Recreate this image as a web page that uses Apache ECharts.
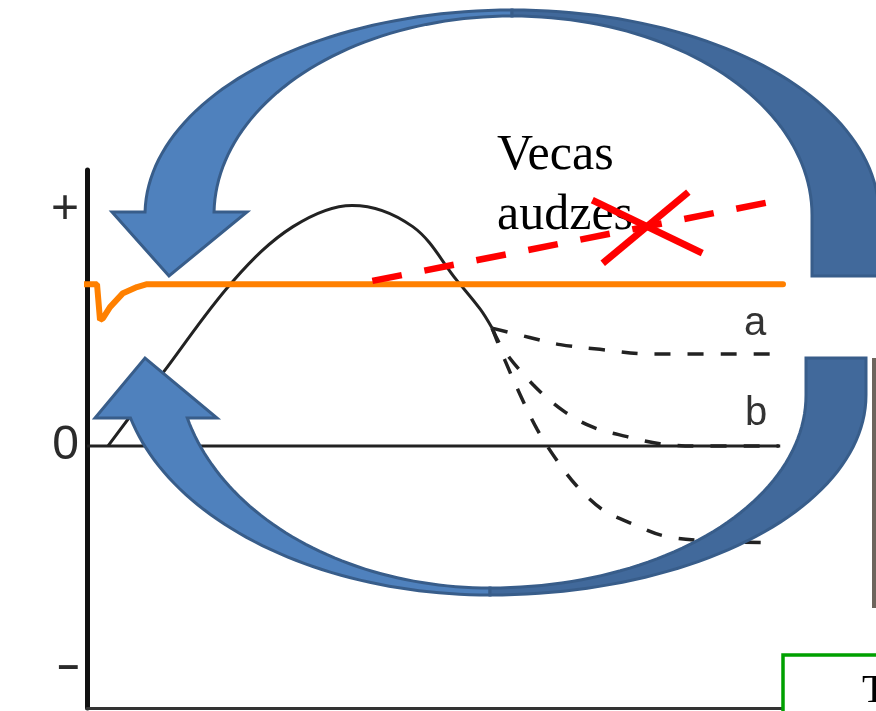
<!DOCTYPE html>
<html>
<head>
<meta charset="utf-8">
<script src="https://cdn.jsdelivr.net/npm/echarts@6.0.0/dist/echarts.min.js"></script>
<style>
  html, body { margin: 0; padding: 0; background: #fff; }
  #chart { width: 876px; height: 711px; }
</style>
</head>
<body>
<div id="chart"></div>
<script>
// curves as [time, value]
var mainCurve = [[0.30, 0], [1.09, 0.31], [2.10, 0.70], [2.96, 0.93], [3.81, 1.02],
  [4.68, 0.93], [5.32, 0.70], [5.65, 0.58], [5.82, 0.50]];
var branchA = [[5.82, 0.50], [6.36, 0.46], [6.80, 0.43], [7.37, 0.41], [8.09, 0.39], [9.94, 0.39]];
var branchB = [[5.82, 0.50], [5.98, 0.41], [6.41, 0.26], [6.84, 0.15], [7.27, 0.08],
  [7.76, 0.04], [8.23, 0.01], [8.81, 0], [9.94, 0]];
var branchC = [[5.82, 0.50], [6.01, 0.36], [6.22, 0.22], [6.47, 0.07], [6.75, -0.06],
  [7.04, -0.17], [7.41, -0.27], [7.84, -0.33], [8.28, -0.38], [8.81, -0.40], [9.89, -0.41]];
var orangeLine = [[-1.11, 0.686], [0.144, 0.686], [0.187, 0.534], [0.23, 0.542], [0.33, 0.589],
  [0.517, 0.648], [0.718, 0.674], [0.862, 0.686], [10, 0.686]];
var redTrend = [[4.10, 0.70], [10.03, 1.047]];
var crossA = [[7.26, 1.042], [8.84, 0.818]];
var crossB = [[8.64, 1.076], [7.41, 0.775]];
var zeroLine = [[0, 0], [9.96, 0]];
var yTicks = [1, 0, -0.94];
var yTickText = ['+', '0', '–'];

var chartDom = document.getElementById('chart');
var myChart = echarts.init(chartDom);
var option;

// points of one edge of a curved arrow band, from its apex to yEnd
function edge(cx, cy, rx, ry, apex, side, yEnd) {
  var pts = [];
  var end = Math.PI / 2, ext = false;
  var rel = (yEnd - cy) * apex;
  if (rel > 0) end = Math.acos(rel / ry); else ext = true;
  for (var k = 0; k <= 48; k++) {
    var phi = end * k / 48;
    pts.push([cx + side * rx * Math.sin(phi), cy + apex * ry * Math.cos(phi)]);
  }
  if (ext) pts.push([cx + side * rx, yEnd]);
  return pts;
}

function band(outer, inner, head) {
  return outer.concat(head || [], inner.slice().reverse());
}

var light = '#4f81bd', dark = '#41699b', outline = '#385d8a';

// top arrow, pointing down on the left
var topRight = band(edge(512, 215, 367, 205, -1, 1, 276), edge(512, 215, 300, 199, -1, 1, 276));
var topLeft = band(edge(512, 215, 367, 205, -1, -1, 212), edge(512, 215, 298, 199, -1, -1, 212),
  [[112, 212], [169, 276], [247, 212]]);
// bottom arrow, pointing up on the left
var botRight = band(edge(490, 395, 376, 200, 1, 1, 358), edge(490, 395, 316, 193, 1, 1, 358));
var botLeft = band(edge(490, 360, 371, 235, 1, -1, 418), edge(490, 360, 313, 228, 1, -1, 418),
  [[95, 418], [145, 358], [217, 418]]);

function arrowPart(pts, fill) {
  return {
    type: 'polygon', z: 100, silent: true,
    shape: { points: pts },
    style: { fill: fill, stroke: outline, lineWidth: 3, lineJoin: 'miter' }
  };
}

function lineSeries(name, data, style, extra) {
  var s = {
    name: name, type: 'line', data: data, showSymbol: false, symbol: 'none',
    silent: true, lineStyle: style, clip: false
  };
  for (var k in extra) s[k] = extra[k];
  return s;
}

var dashed = { color: '#222', width: 3.5, type: [16, 17] };

option = {
  animation: false,
  grid: { left: 87, right: 93, top: 170, bottom: 3, outerBoundsMode: 'none' },
  xAxis: {
    type: 'value', min: 0, max: 10,
    axisLine: { show: true, onZero: false, lineStyle: { color: '#333', width: 3 } },
    axisTick: { show: false }, axisLabel: { show: false }, splitLine: { show: false }
  },
  yAxis: {
    type: 'value', min: -1.11, max: 1.17,
    axisLine: { show: true, onZero: false, lineStyle: { color: '#111', width: 5 } },
    axisTick: { show: false }, splitLine: { show: false },
    axisLabel: {
      customValues: yTicks,
      formatter: function (v) {
        return v > 0.5 ? yTickText[0] : (v < -0.5 ? '{m|' + yTickText[2] + '}' : yTickText[1]);
      },
      rich: { m: { fontSize: 38, fontWeight: 'bold', fontFamily: 'Liberation Sans', color: '#2b2b2b' } },
      fontSize: 48, fontFamily: 'Liberation Sans', color: '#2b2b2b', margin: 8
    }
  },
  series: [
    lineSeries('zero', zeroLine, { color: '#222', width: 3 }),
    lineSeries('curve', mainCurve, { color: '#222', width: 3 }, { smooth: 0.35 }),
    lineSeries('a', branchA, dashed, { smooth: 0.35 }),
    lineSeries('b', branchB, dashed, { smooth: 0.35 }),
    lineSeries('c', branchC, dashed, { smooth: 0.35 }),
    lineSeries('orange', orangeLine, { color: '#ff8000', width: 6, cap: 'round' }),
    lineSeries('trend', redTrend, { color: '#ff0000', width: 6.5, type: [30, 23] }),
    lineSeries('crossA', crossA, { color: '#ff0000', width: 7 }),
    lineSeries('crossB', crossB, { color: '#ff0000', width: 7 })
  ],
  graphic: [
    { type: 'text', left: 497, top: 126, z: 1, silent: true,
      style: { text: 'Vecas\naudzes', fontSize: 50, fontFamily: 'Liberation Serif', fill: '#000', lineHeight: 60 } },
    { type: 'text', left: 744, top: 304, z: 1, silent: true,
      style: { text: 'a', fontSize: 40, fontFamily: 'Liberation Sans', fill: '#333' } },
    { type: 'text', left: 745, top: 394, z: 1, silent: true,
      style: { text: 'b', fontSize: 40, fontFamily: 'Liberation Sans', fill: '#333' } },
    { type: 'rect', z: 1, silent: true, shape: { x: 783, y: 655, width: 150, height: 100 },
      style: { fill: '#fff', stroke: '#00a000', lineWidth: 3.5 } },
    { type: 'text', left: 862, top: 671, z: 2, silent: true,
      style: { text: 'T', fontSize: 40, fontFamily: 'Liberation Serif', fill: '#000' } },
    { type: 'rect', z: 1, silent: true, shape: { x: 872, y: 358, width: 4, height: 250 },
      style: { fill: '#6d655d' } },
    arrowPart(topLeft, light),
    arrowPart(topRight, dark),
    arrowPart(botLeft, light),
    arrowPart(botRight, dark)
  ]
};

if (option && typeof option === 'object') {
  myChart.setOption(option);
}

window.onresize = function () {
  myChart.resize();
};
</script>
</body>
</html>
